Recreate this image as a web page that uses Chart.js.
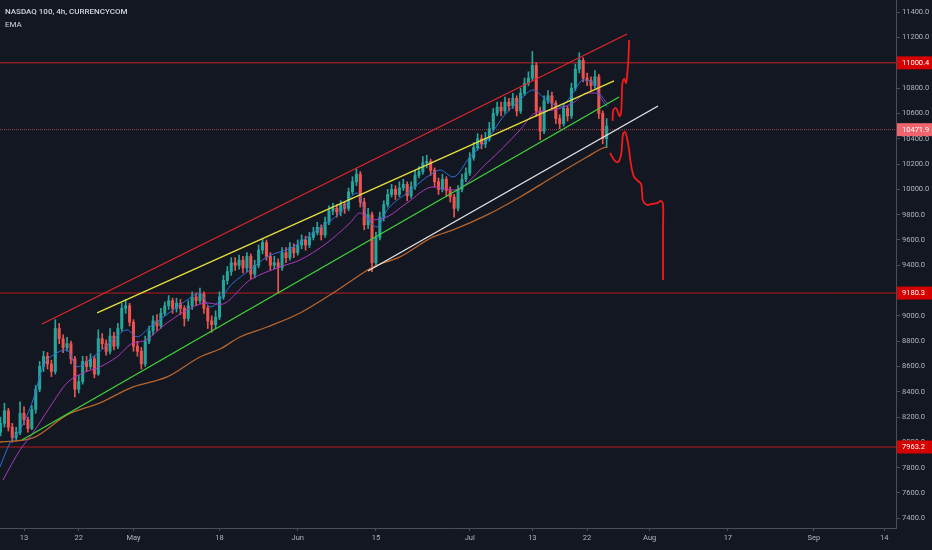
<!DOCTYPE html>
<html>
<head>
<meta charset="utf-8">
<title>NASDAQ 100, 4h, CURRENCYCOM</title>
<script src="https://cdn.jsdelivr.net/npm/chart.js@4.4.1/dist/chart.umd.min.js"></script>
<style>
  html, body { margin: 0; padding: 0; background: #131722; overflow: hidden; }
  #wrap { position: relative; width: 932px; height: 550px; }
</style>
</head>
<body>
<div id="wrap"><canvas id="chart" width="932" height="550"></canvas></div>
<script>
// Eje X en días hábiles contados desde el 13 de abril (0 = Apr 13)
const firstBarDay = -3;
const barStep = 0.5;

const xTickDays   = [0, 7, 14, 25, 35, 45, 57, 65, 72, 80, 90, 101, 110];
const xTickLabels = ['13', '22', 'May', '18', 'Jun', '15', 'Jul', '13', '22', 'Aug', '17', 'Sep', '14'];
const yTickValues = [7400, 7600, 7800, 8000, 8200, 8400, 8600, 8800, 9000, 9200, 9400, 9600, 9800,
                     10000, 10200, 10400, 10600, 10800, 11000, 11200, 11400];

// Velas (OHLC)
const opens = [
  8080, 8150, 8250, 8120, 8040, 8080, 8230, 8180, 8110, 8260,
  8420, 8600, 8680, 8620, 8560, 8900, 8820, 8750, 8780, 8660,
  8420, 8480, 8640, 8600, 8660, 8540, 8820, 8780, 8720, 8840,
  8760, 8900, 9060, 9080, 8950, 8760, 8720, 8620, 8800, 8880,
  8960, 8920, 9020, 9080, 9120, 9060, 9100, 9060, 8980, 9080,
  9150, 9120, 9170, 9060, 8960, 8930, 8990, 9150, 9280, 9350,
  9420, 9400, 9440, 9380, 9470, 9330, 9400, 9520, 9580, 9470,
  9400, 9420, 9380, 9500, 9460, 9540, 9500, 9560, 9600, 9560,
  9620, 9660, 9700, 9640, 9740, 9830, 9850, 9820, 9880, 9850,
  9980, 10060, 10120, 9900, 9720, 9800, 9420, 9620, 9780, 9880,
  9960, 10000, 9960, 10010, 10040, 9950, 10020, 10110, 10140, 10210,
  10220, 10150, 10060, 10000, 10080, 9990, 9940, 9850, 10000, 10080,
  10130, 10250, 10330, 10400, 10360, 10400, 10480, 10600, 10650, 10620,
  10690, 10660, 10720, 10620, 10760, 10840, 10880, 10980, 10620, 10460,
  10700, 10740, 10680, 10560, 10520, 10640, 10580, 10800, 10950, 11020,
  10880, 10860, 10820, 10890, 10600, 10400
];
const highs = [
  8200, 8310, 8270, 8150, 8120, 8320, 8280, 8200, 8290, 8450,
  8640, 8720, 8710, 8650, 8970, 8940, 8850, 8830, 8800, 8680,
  8530, 8680, 8680, 8700, 8680, 8890, 8860, 8810, 8900, 8870,
  8940, 9100, 9130, 9100, 8970, 8800, 8750, 8840, 8920, 9000,
  9010, 9060, 9110, 9160, 9140, 9140, 9130, 9080, 9120, 9190,
  9180, 9220, 9190, 9080, 9000, 9040, 9190, 9320, 9390, 9460,
  9460, 9480, 9470, 9500, 9490, 9440, 9560, 9610, 9600, 9500,
  9470, 9450, 9540, 9540, 9580, 9570, 9600, 9640, 9630, 9660,
  9700, 9740, 9720, 9780, 9870, 9890, 9880, 9910, 9900, 10010,
  10100, 10160, 10140, 9930, 9850, 9820, 9660, 9820, 9910, 10000,
  10040, 10030, 10060, 10080, 10060, 10060, 10150, 10180, 10260, 10270,
  10240, 10170, 10090, 10120, 10100, 10020, 9960, 10030, 10120, 10170,
  10290, 10370, 10440, 10430, 10450, 10530, 10640, 10690, 10690, 10730,
  10720, 10760, 10740, 10800, 10880, 10930, 11090, 11000, 10650, 10740,
  10780, 10770, 10700, 10590, 10680, 10660, 10840, 10990, 11080, 11040,
  10920, 10890, 10940, 10910, 10620, 10560
];
const lows = [
  8050, 8120, 8090, 8000, 8010, 8060, 8140, 8080, 8100, 8230,
  8400, 8560, 8580, 8520, 8540, 8780, 8710, 8720, 8620, 8360,
  8390, 8460, 8560, 8580, 8510, 8530, 8740, 8690, 8700, 8730,
  8740, 8880, 9020, 8920, 8720, 8680, 8580, 8600, 8780, 8850,
  8880, 8900, 9000, 9050, 9020, 9030, 9010, 8920, 8960, 9050,
  9080, 9100, 9020, 8900, 8870, 8900, 8970, 9130, 9250, 9320,
  9360, 9370, 9340, 9350, 9290, 9300, 9380, 9490, 9440, 9360,
  9370, 9180, 9360, 9420, 9440, 9460, 9480, 9530, 9520, 9540,
  9600, 9640, 9600, 9620, 9720, 9800, 9780, 9790, 9810, 9830,
  9960, 10030, 9860, 9680, 9690, 9350, 9390, 9600, 9750, 9860,
  9940, 9920, 9940, 9990, 9910, 9930, 10000, 10090, 10120, 10170,
  10110, 10020, 9960, 9980, 9950, 9900, 9780, 9830, 9980, 10060,
  10110, 10230, 10310, 10320, 10330, 10380, 10460, 10580, 10580, 10600,
  10620, 10640, 10580, 10600, 10740, 10820, 10860, 10580, 10390, 10440,
  10680, 10640, 10520, 10480, 10500, 10540, 10560, 10780, 10920, 10850,
  10820, 10780, 10800, 10560, 10360, 10330
];
const closes = [
  8150, 8250, 8120, 8040, 8080, 8230, 8180, 8110, 8260, 8420,
  8600, 8680, 8620, 8560, 8900, 8820, 8750, 8780, 8660, 8420,
  8480, 8640, 8600, 8660, 8540, 8820, 8780, 8720, 8840, 8760,
  8900, 9060, 9080, 8950, 8760, 8720, 8620, 8800, 8880, 8960,
  8920, 9020, 9080, 9120, 9060, 9100, 9060, 8980, 9080, 9150,
  9120, 9170, 9060, 8960, 8930, 8990, 9150, 9280, 9350, 9420,
  9400, 9440, 9380, 9470, 9330, 9400, 9520, 9580, 9470, 9400,
  9420, 9380, 9500, 9460, 9540, 9500, 9560, 9600, 9560, 9620,
  9660, 9700, 9640, 9740, 9830, 9850, 9820, 9880, 9850, 9980,
  10060, 10120, 9900, 9720, 9800, 9420, 9620, 9780, 9880, 9960,
  10000, 9960, 10010, 10040, 9950, 10020, 10110, 10140, 10210, 10220,
  10150, 10060, 10000, 10080, 9990, 9940, 9850, 10000, 10080, 10130,
  10250, 10330, 10400, 10360, 10400, 10480, 10600, 10650, 10620, 10690,
  10660, 10720, 10620, 10760, 10840, 10880, 10980, 10620, 10460, 10700,
  10740, 10680, 10560, 10520, 10640, 10580, 10800, 10950, 11020, 10880,
  10860, 10820, 10890, 10600, 10400, 10500
];

// Medias móviles exponenciales
const emaFastDays = [-3.07, -1.79, -0.51, 1.15, 2.43, 4.22, 5.50, 6.78, 8.82, 11.00, 13.17, 14.45, 16.11, 19.05,
  20.84, 22.51, 23.79, 26.73, 28.90, 31.07, 34.40, 37.47, 40.41, 42.58, 43.86, 45.14, 46.42, 48.98, 52.30,
  53.20, 54.86, 57.03, 59.21, 61.25, 63.43, 65.09, 66.37, 68.54, 70.20, 71.48, 72.76, 73.66, 74.55];
const emaFastValues = [7806, 7996, 8098, 8335, 8597, 8708, 8731, 8597, 8676, 8786, 8889, 8834, 8913, 9047,
  9126, 9181, 9070, 9260, 9363, 9466, 9545, 9679, 9814, 9972, 9782, 9703, 9837, 9972, 10130,
  10153, 10098, 10256, 10390, 10572, 10707, 10786, 10731, 10652, 10762, 10865, 10841, 10731, 10652];

const emaMidDays = [-2.69, -0.51, 1.15, 3.32, 5.50, 7.54, 9.72, 11.89, 13.94, 15.22, 18.29, 20.84, 23.40, 25.06,
  28.90, 32.74, 35.29, 38.75, 41.69, 42.97, 44.25, 46.42, 48.98, 52.30, 54.86, 59.21, 63.43, 65.35, 67.65,
  70.20, 71.99, 73.27, 74.55];
const emaMidValues = [7703, 7940, 8075, 8280, 8470, 8549, 8597, 8676, 8786, 8800, 8944, 9047, 9102, 9090,
  9284, 9387, 9442, 9577, 9735, 9814, 9758, 9782, 9893, 10019, 9995, 10209, 10470, 10604, 10628,
  10683, 10762, 10762, 10683];

const emaSlowDays = [-3.07, 1.15, 5.50, 9.72, 13.94, 18.29, 22.51, 25.06, 27.62, 31.07, 35.29, 39.51, 43.35,
  44.63, 48.08, 52.30, 54.86, 59.21, 63.43, 67.65, 71.99, 74.04, 74.55];
const emaSlowValues = [8003, 8035, 8217, 8312, 8438, 8517, 8675, 8738, 8833, 8912, 9023, 9181, 9339,
  9387, 9466, 9624, 9679, 9798, 9940, 10098, 10256, 10327, 10335];

// Líneas de tendencia dibujadas
const channelTopDays = [2.30, 77.11];   const channelTopValues = [8936, 11228];
const yellowDays     = [9.34, 75.45];   const yellowValues     = [9023, 10857];
const greenDays      = [-0.26, 76.09];  const greenValues      = [8019, 10730];
const whiteDays      = [43.99, 81.07];  const whiteValues      = [9355, 10659];

// Proyección a mano alzada (rojo)
const upPathDays   = [75.26, 75.36, 75.70, 76.15, 76.34, 76.43, 76.51, 76.76, 76.98, 77.11, 77.28, 77.37];
const upPathValues = [10541, 10628, 10643, 10580, 10604, 10707, 10833, 10873, 10841, 10896, 11023, 11181];
const downPathDays   = [74.94, 75.45, 75.96, 76.34, 76.47, 76.60, 76.85, 77.11, 77.37, 77.62, 78.01, 78.52,
  78.90, 79.03, 79.16, 79.67, 80.31, 80.95, 81.46, 81.71, 81.71, 81.71, 81.71];
const downPathValues = [10288, 10232, 10216, 10272, 10351, 10438, 10454, 10406, 10312, 10193, 10098, 10066,
  10043, 9979, 9908, 9877, 9885, 9892, 9908, 9877, 9679, 9481, 9284];

// Niveles horizontales
const hLineValues = [11000.4, 10471.9, 9180.3, 7963.2];
const hLineColors = ['#c62828', '#a8444b', '#b71c1c', '#b71c1c'];
const hLineTagColors = ['#d50000', '#f0646e', '#d50000', '#d50000'];

const X_MIN = -3.07, X_MAX = 111.5;
const Y_MIN = 7323, Y_MAX = 11497;
const UP = '#26a69a', DOWN = '#ef5350';
const FONT = 'Roboto, "Liberation Sans", sans-serif';

const barDays = closes.map((_, i) => firstBarDay + i * barStep);
const candleColors = closes.map((c, i) => c >= opens[i] ? UP : DOWN);
const toPoints = (days, values) => days.map((d, i) => ({ x: d, y: values[i] }));

function lineSet(days, values, color, width, extra) {
    return Object.assign({
        type: 'line',
        data: toPoints(days, values),
        borderColor: color,
        borderWidth: width,
        pointRadius: 0,
        pointHoverRadius: 0,
        fill: false
    }, extra || {});
}

const datasets = [
    // dibujos encima de todo
    lineSet(channelTopDays, channelTopValues, '#e0262a', 1.3, { order: 0 }),
    lineSet(yellowDays, yellowValues, '#e6e03a', 1.3, { order: 0 }),
    lineSet(greenDays, greenValues, '#3fd33a', 1.3, { order: 0 }),
    lineSet(whiteDays, whiteValues, '#e8e8e8', 1.3, { order: 0 }),
    lineSet(upPathDays, upPathValues, '#f21b1b', 1.8, { order: 0, tension: 0.35 }),
    lineSet(downPathDays, downPathValues, '#f21b1b', 1.8, { order: 0, tension: 0.35 }),
    // EMAs
    lineSet(emaFastDays, emaFastValues, '#2d6fd6', 1, { order: 1, cubicInterpolationMode: 'monotone' }),
    lineSet(emaMidDays, emaMidValues, '#ab38bd', 1, { order: 1, cubicInterpolationMode: 'monotone' }),
    lineSet(emaSlowDays, emaSlowValues, '#b8652c', 1.3, { order: 1, cubicInterpolationMode: 'monotone' }),
    // velas: mechas y cuerpos
    {
        type: 'bar',
        data: barDays.map((d, i) => ({ x: d, y: [lows[i], highs[i]] })),
        backgroundColor: candleColors,
        barThickness: 1,
        grouped: false,
        order: 2
    },
    {
        type: 'bar',
        data: barDays.map((d, i) => ({ x: d, y: [opens[i], closes[i]] })),
        backgroundColor: candleColors,
        barThickness: 2.4,
        minBarLength: 1,
        grouped: false,
        order: 2
    }
];

// líneas horizontales de precio
hLineValues.forEach((v, i) => {
    datasets.push(lineSet([X_MIN, X_MAX], [v, v], hLineColors[i], 1,
        { order: 3, borderDash: i === 1 ? [1, 1] : [] }));
});

// Fondo, título y etiquetas de precio en el eje
const decorations = {
    id: 'decorations',
    beforeDraw(chart) {
        const ctx = chart.ctx;
        ctx.save();
        ctx.fillStyle = '#131722';
        ctx.fillRect(0, 0, chart.width, chart.height);
        ctx.restore();
    },
    afterDraw(chart) {
        const ctx = chart.ctx;
        const y = chart.scales.y;
        ctx.save();
        ctx.textBaseline = 'middle';
        ctx.font = '7.5px ' + FONT;
        hLineValues.forEach((v, i) => {
            const py = y.getPixelForValue(v);
            ctx.fillStyle = hLineTagColors[i];
            ctx.fillRect(y.left + 1, py - 6.5, 36, 13);
            ctx.fillStyle = '#ffffff';
            ctx.fillText(v.toFixed(1), y.left + 6, py);
        });
        ctx.fillStyle = '#d1d4dc';
        ctx.font = '500 8px ' + FONT;
        ctx.fillText('NASDAQ 100, 4h, CURRENCYCOM', 5, 12);
        ctx.font = '8px ' + FONT;
        ctx.fillText('EMA', 5, 25);
        ctx.restore();
    }
};

new Chart(document.getElementById('chart'), {
    type: 'bar',
    data: { datasets },
    options: {
        responsive: false,
        animation: false,
        layout: { padding: 0 },
        plugins: { legend: { display: false }, tooltip: { enabled: false } },
        scales: {
            x: {
                type: 'linear',
                min: X_MIN,
                max: X_MAX,
                offset: false,
                grid: { drawOnChartArea: false, tickLength: 3, color: '#4a4e59', offset: false },
                border: { color: '#4a4e59' },
                ticks: {
                    color: '#b2b5be',
                    font: { family: FONT, size: 7.5 },
                    padding: 3,
                    maxRotation: 0,
                    autoSkip: false,
                    callback: (v, i) => xTickLabels[i]
                },
                afterBuildTicks: axis => { axis.ticks = xTickDays.map(v => ({ value: v })); },
                afterFit: axis => {
                    axis.height = 22;
                    axis.paddingLeft = 0;
                    axis.paddingRight = 0;
                }
            },
            y: {
                type: 'linear',
                position: 'right',
                min: Y_MIN,
                max: Y_MAX,
                grid: { drawOnChartArea: false, tickLength: 4, color: '#4a4e59' },
                border: { color: '#4a4e59' },
                ticks: {
                    color: '#b2b5be',
                    font: { family: FONT, size: 7.5 },
                    padding: 2,
                    callback: v => v.toFixed(1)
                },
                afterBuildTicks: axis => { axis.ticks = yTickValues.map(v => ({ value: v })); },
                afterFit: axis => {
                    axis.width = 36;
                    axis.paddingTop = 0;
                    axis.paddingBottom = 0;
                }
            }
        }
    },
    plugins: [decorations]
});
</script>
</body>
</html>
